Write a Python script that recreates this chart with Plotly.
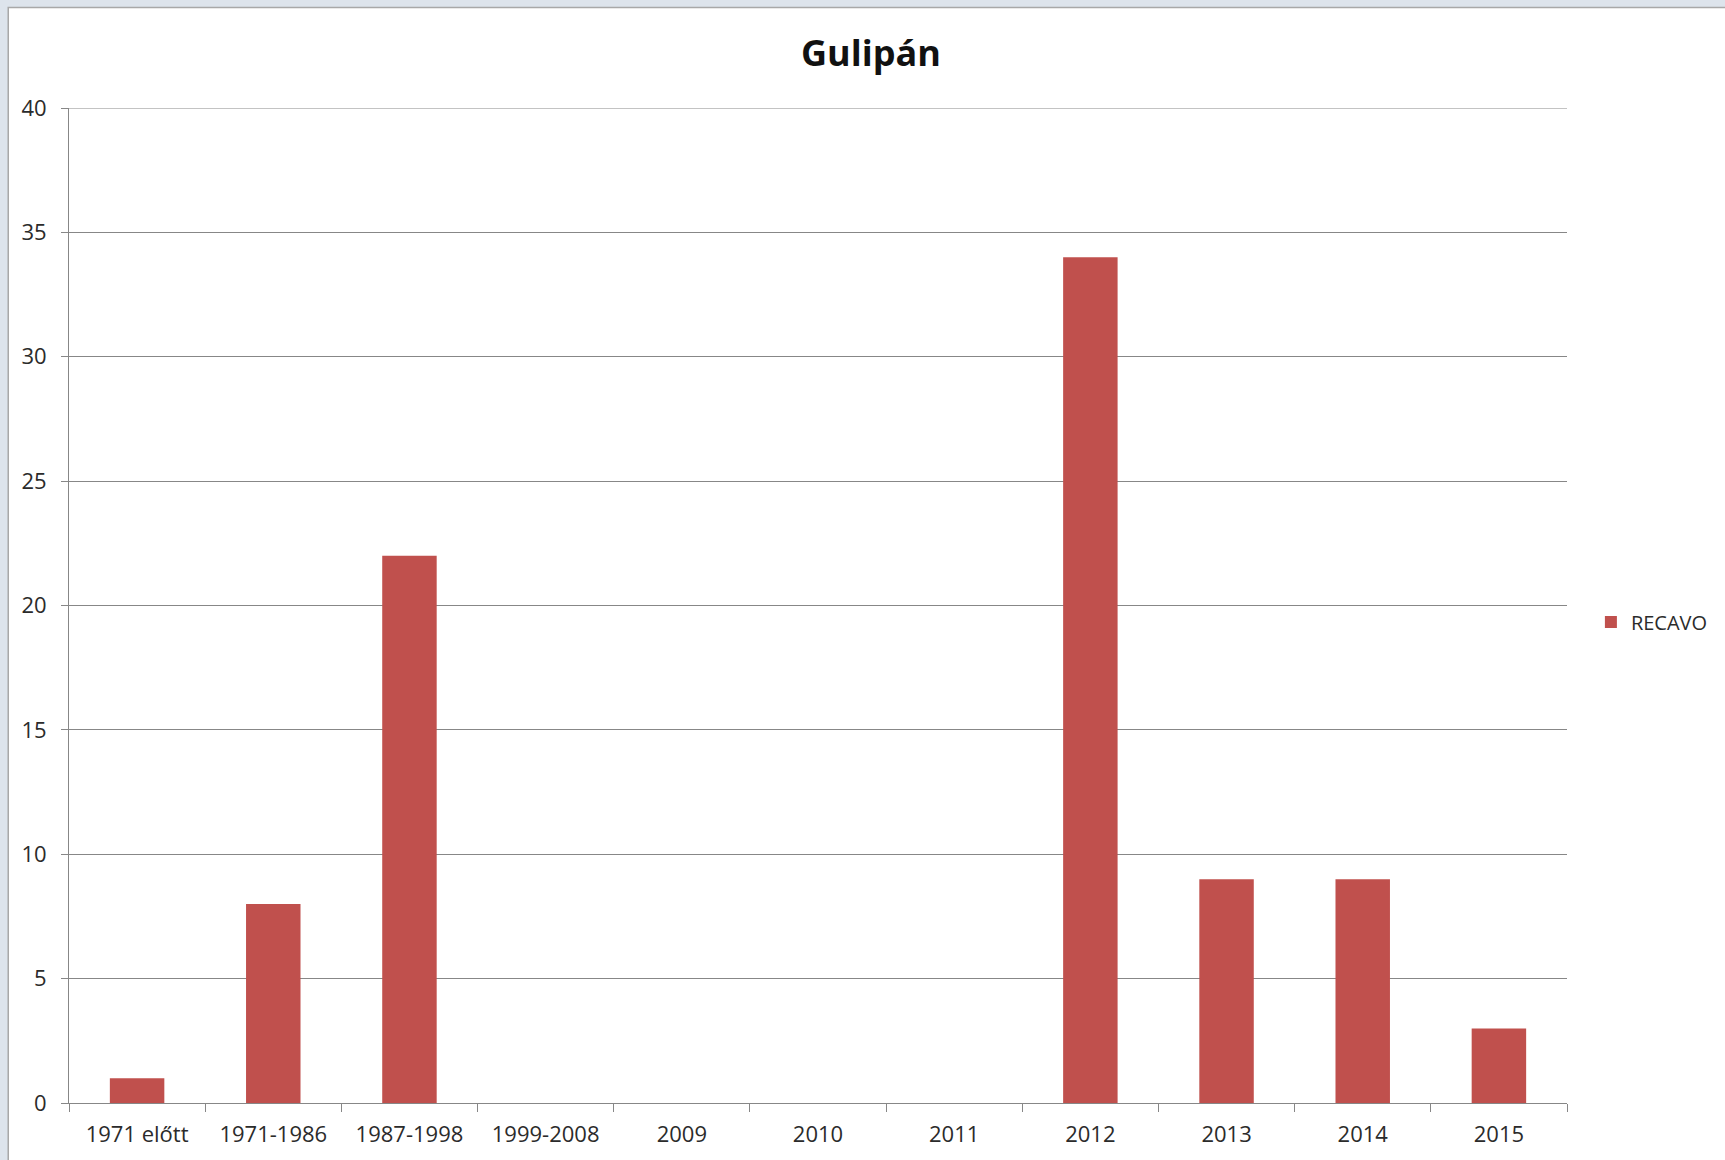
import plotly.graph_objects as go

categories = ["1971 előtt", "1971-1986", "1987-1998", "1999-2008", "2009", "2010",
              "2011", "2012", "2013", "2014", "2015"]
recavo = [1, 8, 22, 0, 0, 0, 0, 34, 9, 9, 3]
y_ticks = [0, 5, 10, 15, 20, 25, 30, 35, 40]
y_max = 40
series_name = "RECAVO"
title_text = "Gulipán"

W, H = 1725, 1160
L, R, T, B = 69, 152, 108, 53
pw, ph = W - L - R, H - T - B

def px_x(x):
    return (x - L) / pw

def px_y(y):
    return (H - B - y) / ph

fig = go.Figure()
fig.add_trace(go.Bar(
    x=categories, y=recavo, name=series_name,
    marker=dict(color="#C0504D", line=dict(width=0)),
    showlegend=True,
))

fig.update_layout(
    width=W, height=H,
    margin=dict(l=L, r=R, t=T, b=B, pad=0),
    paper_bgcolor="#dde4ec",
    plot_bgcolor="rgba(0,0,0,0)",
    bargap=0.6,
    font=dict(family="Open Sans", size=21, color="#2b2b2b"),
    title=dict(text="<b>" + title_text + "</b>", x=871 / W, xref="container", xanchor="center",
               y=1 - 53 / H, yref="container", yanchor="middle",
               font=dict(family="Open Sans", size=36, color="#111111")),
    showlegend=True,
    legend=dict(x=px_x(1597), y=px_y(624), xanchor="left", yanchor="middle",
                font=dict(family="Open Sans", size=20, color="#2b2b2b"),
                bgcolor="rgba(0,0,0,0)", borderwidth=0),
    xaxis=dict(
        type="category", showgrid=False, showline=True, linecolor="#878787", linewidth=1,
        ticks="outside", ticklen=8, tickcolor="#878787", tickson="boundaries",
        ticklabelstandoff=12,
        tickfont=dict(size=22, color="#2b2b2b"), fixedrange=True,
    ),
    yaxis=dict(
        range=[0, y_max], tickvals=y_ticks, showgrid=True, gridcolor="#878787", gridwidth=1,
        showline=True, linecolor="#878787", linewidth=1, zeroline=False,
        ticks="outside", ticklen=7, tickcolor="#878787",
        ticklabelstandoff=10,
        tickfont=dict(size=22, color="#2b2b2b"),
    ),
    shapes=[
        dict(type="rect", xref="paper", yref="paper", layer="below",
             x0=px_x(8), x1=px_x(W + 10), y0=px_y(H + 10), y1=px_y(7),
             fillcolor="white", line=dict(color="#a8a8a8", width=1.5)),
        dict(type="line", xref="paper", yref="y", layer="below",
             x0=0, x1=1, y0=y_max, y1=y_max,
             line=dict(color="#878787", width=1)),
    ],
)

fig.write_html("out.html", config={"displayModeBar": False},
               post_script="document.body.style.margin='0';document.body.style.background='#dde4ec';")
